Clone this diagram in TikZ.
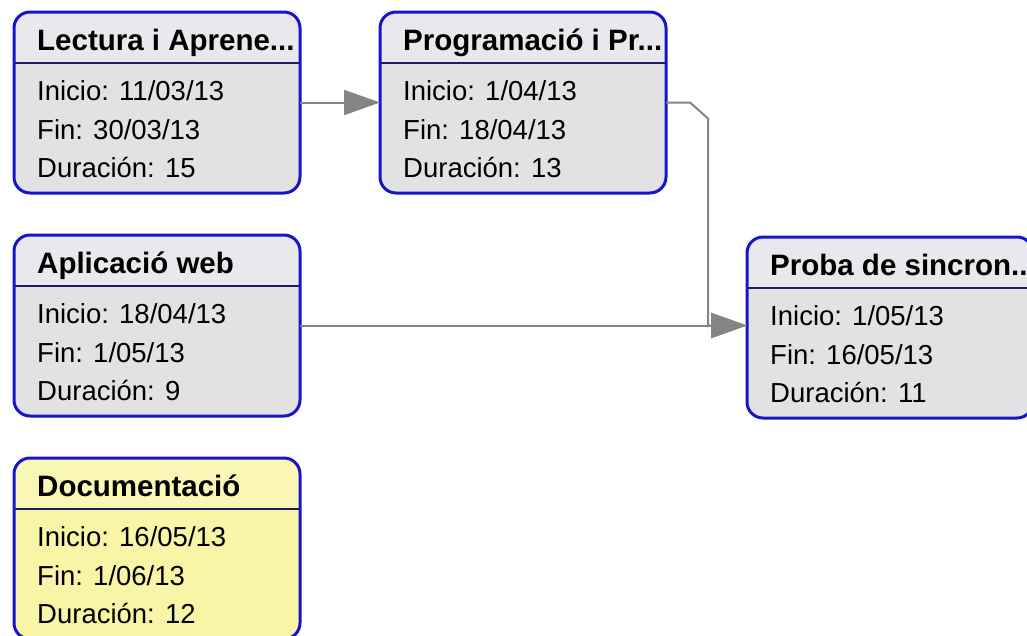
\documentclass[tikz,border=0pt]{standalone}
\usepackage{fontspec}
\setmainfont{Liberation Sans}
\usetikzlibrary{arrows.meta}
\definecolor{boxblue}{RGB}{22,22,200}
\definecolor{divline}{RGB}{30,30,90}
\definecolor{bodygray}{RGB}{226,226,229}
\definecolor{headgray}{RGB}{233,233,237}
\definecolor{bodyyellow}{RGB}{249,245,166}
\definecolor{headyellow}{RGB}{250,247,182}
\definecolor{conngray}{RGB}{132,132,132}
\tikzset{
  task/.style={rectangle, rounded corners=16pt, minimum width=286pt, minimum height=181pt, inner sep=0pt, outer sep=0pt},
  taskborder/.style={draw=boxblue, line width=3pt, rounded corners=16pt},
  divider/.style={draw=divline, line width=1.8pt},
  tasktitle/.style={anchor=base west, inner sep=0pt, font=\fontsize{29.5}{32}\selectfont\bfseries},
  taskbody/.style={anchor=base west, inner sep=0pt, font=\fontsize{27.5}{32}\selectfont},
  conn/.style={draw=conngray, line width=2pt, -{Triangle[length=36pt,width=25pt,fill=conngray]}},
}
\newcommand\taskbox[9]{%
  \node[task, fill=#4] (#1) at (#2,#3) {};
  \begin{scope}
    \clip[rounded corners=16pt] (#1.north west) rectangle (#1.south east);
    \fill[#5] (#1.north west) rectangle ([yshift=-51pt]#1.north east);
    \draw[divider] ([yshift=-51pt]#1.north west) -- ([yshift=-51pt]#1.north east);
    \node[tasktitle] (#1-t) at ([xshift=23pt,yshift=-38pt]#1.north west) {#6};
    \node[taskbody] (#1-i) at ([xshift=23pt,yshift=-88pt]#1.north west) {Inicio: #7};
    \node[taskbody] (#1-f) at ([xshift=23pt,yshift=-127pt]#1.north west) {Fin: #8};
    \node[taskbody] (#1-d) at ([xshift=23pt,yshift=-165pt]#1.north west) {Duración: #9};
  \end{scope}
  \draw[taskborder] (#1.north west) rectangle (#1.south east);
}
\begin{document}
\begin{tikzpicture}[x=1pt,y=-1pt]
\useasboundingbox[fill=white] (0,0) rectangle (1027,635);
\begin{scope}
\clip (0,0) rectangle (1027,635);
\taskbox{b1}{157}{102.5}{bodygray}{headgray}{Lectura i Aprene...}{11/03/13}{30/03/13}{15}
\taskbox{b2}{523}{102.5}{bodygray}{headgray}{Programació i Pr...}{1/04/13}{18/04/13}{13}
\taskbox{b3}{157}{325.5}{bodygray}{headgray}{Aplicació web}{18/04/13}{1/05/13}{9}
\taskbox{b4}{890}{327.5}{bodygray}{headgray}{Proba de sincron...}{1/05/13}{16/05/13}{11}
\taskbox{b5}{157}{548.5}{bodyyellow}{headyellow}{Documentació}{16/05/13}{1/06/13}{12}
\coordinate (m) at (b3.east -| b4.west);
\draw[conn] (b1.east) -- (b2.west);
\draw[conn] (b3.east) -- (m);
\draw[conn] (b2.east) -- ++(24,0) -- ++(18,16) |- (m);
\end{scope}
\end{tikzpicture}
\end{document}
